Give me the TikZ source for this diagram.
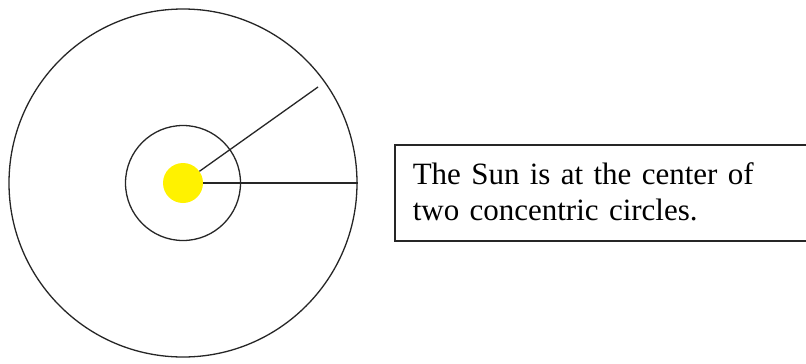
\documentclass[tikz,border=0pt]{standalone}
\usepackage{fontspec}
\setmainfont{Liberation Serif}
\begin{document}
\begin{tikzpicture}[x=1bp,y=-1bp,
  orbit/.style={circle,draw=black!85,line width=1.3bp,inner sep=0pt},
  ray/.style={draw=black!85,line width=1.3bp},
  sunstyle/.style={circle,fill=yellow,inner sep=0pt,minimum size=40bp},
  notebox/.style={draw=black!85,line width=1.5bp,anchor=north west,
    text width=380bp,inner xsep=18bp,inner ysep=0pt,minimum height=96bp,
    align=left,font=\fontsize{31bp}{36bp}\selectfont}]
\useasboundingbox (0,0) rectangle (806,363);
\clip (0,0) rectangle (806,363);
\fill[white] (0,0) rectangle (806,363);
\node[orbit,minimum size=348bp] (outer) at (183,183) {};
\node[orbit,minimum size=115bp] (inner) at (183,183) {};
\node[sunstyle] (sun) at (183,183) {};
\coordinate (rayend) at (318,87);
\draw[ray] (sun) -- (rayend);
\draw[ray] (sun.east) -- (outer.east);
\node[notebox] (note) at (394,144) {\raisebox{2bp}{The Sun is at the center of}\\\raisebox{2bp}{two concentric circles.}};
\end{tikzpicture}
\end{document}
